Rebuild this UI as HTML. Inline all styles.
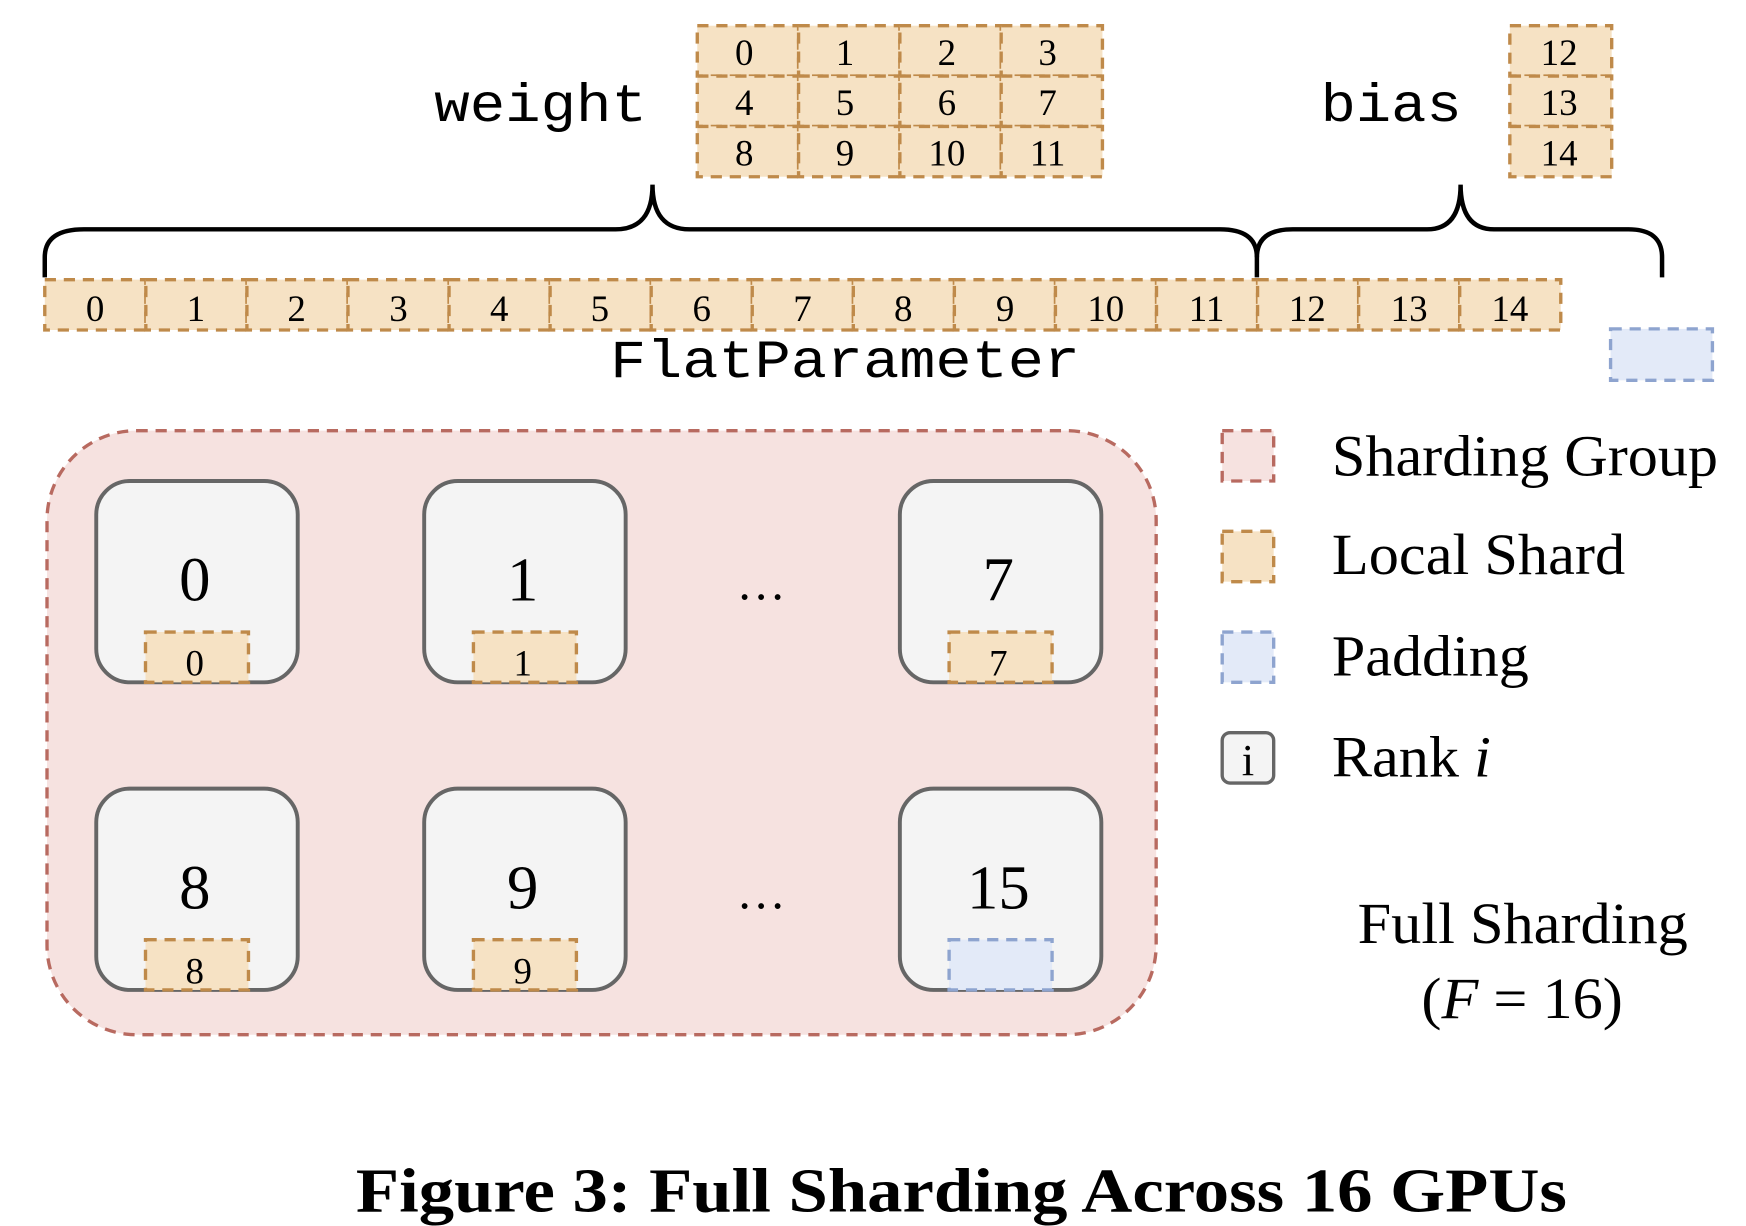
<!DOCTYPE html>
<html><head><meta charset="utf-8"><style>
html,body{margin:0;padding:0;background:#fff;}
svg{display:block;}
.m{font-family:"Liberation Mono",monospace;font-size:48px;fill:#000;}
.s{font-family:"Liberation Serif",serif;fill:#000;}
.c{fill:#f6e2c4;stroke:#bf8a4a;stroke-width:3;stroke-dasharray:10 7;}
.p{fill:#e3eaf8;stroke:#8ea4cf;stroke-width:3;stroke-dasharray:10 7;}
.r{fill:#f4f4f4;stroke:#666;stroke-width:3.5;}
</style></head><body>
<svg width="1746" height="1226" viewBox="0 0 1560 1096" preserveAspectRatio="none" xmlns="http://www.w3.org/2000/svg">
<text class="m" x="388" y="108" textLength="190" lengthAdjust="spacingAndGlyphs">weight</text>
<text class="m" x="1180" y="108" textLength="126" lengthAdjust="spacingAndGlyphs">bias</text>
<g class="s" font-size="33" text-anchor="middle">
<rect class="c" x="623" y="23" width="90.5" height="45"/><rect class="c" x="713.5" y="23" width="90.5" height="45"/><rect class="c" x="804" y="23" width="90.5" height="45"/><rect class="c" x="894.5" y="23" width="90.5" height="45"/>
<rect class="c" x="623" y="68" width="90.5" height="45"/><rect class="c" x="713.5" y="68" width="90.5" height="45"/><rect class="c" x="804" y="68" width="90.5" height="45"/><rect class="c" x="894.5" y="68" width="90.5" height="45"/>
<rect class="c" x="623" y="113" width="90.5" height="45"/><rect class="c" x="713.5" y="113" width="90.5" height="45"/><rect class="c" x="804" y="113" width="90.5" height="45"/><rect class="c" x="894.5" y="113" width="90.5" height="45"/>
<text x="665" y="58">0</text><text x="755" y="58">1</text><text x="846" y="58">2</text><text x="936" y="58">3</text>
<text x="665" y="103">4</text><text x="755" y="103">5</text><text x="846" y="103">6</text><text x="936" y="103">7</text>
<text x="665" y="148">8</text><text x="755" y="148">9</text><text x="846" y="148">10</text><text x="936" y="148">11</text>
<rect class="c" x="1349" y="23" width="91" height="45"/><rect class="c" x="1349" y="68" width="91" height="45"/><rect class="c" x="1349" y="113" width="91" height="45"/>
<text x="1393" y="58">12</text><text x="1393" y="103">13</text><text x="1393" y="148">14</text>
</g>
<path d="M40 248 V230 Q40 205 75 205 H550 Q583 205 583 165 Q583 205 616 205 H1090 Q1123 205 1123 230 V248" fill="none" stroke="#000" stroke-width="4"/>
<path d="M1123 230 Q1123 205 1155 205 H1275 Q1305 205 1305 165 Q1305 205 1335 205 H1455 Q1485 205 1485 230 V248" fill="none" stroke="#000" stroke-width="4"/>
<g class="s" font-size="33" text-anchor="middle">
<rect class="c" x="40" y="250" width="90.3" height="45"/><rect class="c" x="130.3" y="250" width="90.3" height="45"/><rect class="c" x="220.6" y="250" width="90.3" height="45"/><rect class="c" x="310.9" y="250" width="90.3" height="45"/><rect class="c" x="401.2" y="250" width="90.3" height="45"/><rect class="c" x="491.5" y="250" width="90.3" height="45"/><rect class="c" x="581.8" y="250" width="90.3" height="45"/><rect class="c" x="672.1" y="250" width="90.3" height="45"/><rect class="c" x="762.4" y="250" width="90.3" height="45"/><rect class="c" x="852.7" y="250" width="90.3" height="45"/><rect class="c" x="943" y="250" width="90.3" height="45"/><rect class="c" x="1033.3" y="250" width="90.3" height="45"/><rect class="c" x="1123.6" y="250" width="90.3" height="45"/><rect class="c" x="1213.9" y="250" width="90.3" height="45"/><rect class="c" x="1304.2" y="250" width="90.3" height="45"/>
<text x="85" y="287">0</text><text x="175" y="287">1</text><text x="265" y="287">2</text><text x="356" y="287">3</text><text x="446" y="287">4</text><text x="536" y="287">5</text><text x="627" y="287">6</text><text x="717" y="287">7</text><text x="807" y="287">8</text><text x="898" y="287">9</text><text x="988" y="287">10</text><text x="1078" y="287">11</text><text x="1168" y="287">12</text><text x="1259" y="287">13</text><text x="1349" y="287">14</text>
</g>
<text class="m" x="545" y="337" textLength="420" lengthAdjust="spacingAndGlyphs">FlatParameter</text>
<rect class="p" x="1439" y="294" width="91" height="46"/>
<rect x="42" y="385" width="991" height="540" rx="80" fill="#f6e2e0" stroke="#b86a60" stroke-width="3" stroke-dasharray="10 7"/>
<g class="s" text-anchor="middle">
<rect class="r" x="86" y="430" width="180" height="180" rx="30"/><rect class="r" x="379" y="430" width="180" height="180" rx="30"/><rect class="r" x="804" y="430" width="180" height="180" rx="30"/>
<rect class="r" x="86" y="705" width="180" height="180" rx="30"/><rect class="r" x="379" y="705" width="180" height="180" rx="30"/><rect class="r" x="804" y="705" width="180" height="180" rx="30"/>
<g font-size="56"><text x="174" y="537">0</text><text x="467" y="537">1</text><text x="892" y="537">7</text>
<text x="174" y="812">8</text><text x="467" y="812">9</text><text x="892" y="812">15</text></g>
<g font-size="44"><text x="680" y="536">…</text><text x="680" y="812">…</text></g>
<rect class="c" x="130" y="565" width="92" height="45"/><rect class="c" x="423" y="565" width="92" height="45"/><rect class="c" x="848" y="565" width="92" height="45"/>
<rect class="c" x="130" y="840" width="92" height="45"/><rect class="c" x="423" y="840" width="92" height="45"/><rect class="p" x="848" y="840" width="92" height="45"/>
<g font-size="33"><text x="174" y="604">0</text><text x="467" y="604">1</text><text x="892" y="604">7</text><text x="174" y="879">8</text><text x="467" y="879">9</text></g>
</g>
<rect x="1092" y="385" width="46" height="45" fill="#f6e2e0" stroke="#b86a60" stroke-width="3" stroke-dasharray="10 7"/>
<rect class="c" x="1092" y="475" width="46" height="45"/>
<rect class="p" x="1092" y="565" width="46" height="45"/>
<rect x="1092" y="655" width="46" height="45" rx="7" fill="#f4f4f4" stroke="#666" stroke-width="3"/>
<text class="s" x="1115" y="693" font-size="40" text-anchor="middle">i</text>
<g class="s" font-size="52">
<text x="1190" y="425" textLength="345" lengthAdjust="spacingAndGlyphs">Sharding Group</text>
<text x="1190" y="513" textLength="262" lengthAdjust="spacingAndGlyphs">Local Shard</text>
<text x="1190" y="604" textLength="176" lengthAdjust="spacingAndGlyphs">Padding</text>
<text x="1190" y="694" textLength="142" lengthAdjust="spacingAndGlyphs">Rank <tspan font-style="italic">i</tspan></text>
<text x="1213" y="843" textLength="295" lengthAdjust="spacingAndGlyphs">Full Sharding</text>
<text x="1270" y="910" textLength="180" lengthAdjust="spacingAndGlyphs">(<tspan font-style="italic">F</tspan> = 16)</text>
</g>
<text class="s" x="318" y="1083" font-size="56" font-weight="bold" textLength="1082" lengthAdjust="spacingAndGlyphs">Figure 3: Full Sharding Across 16 GPUs</text>
</svg>
</body></html>
